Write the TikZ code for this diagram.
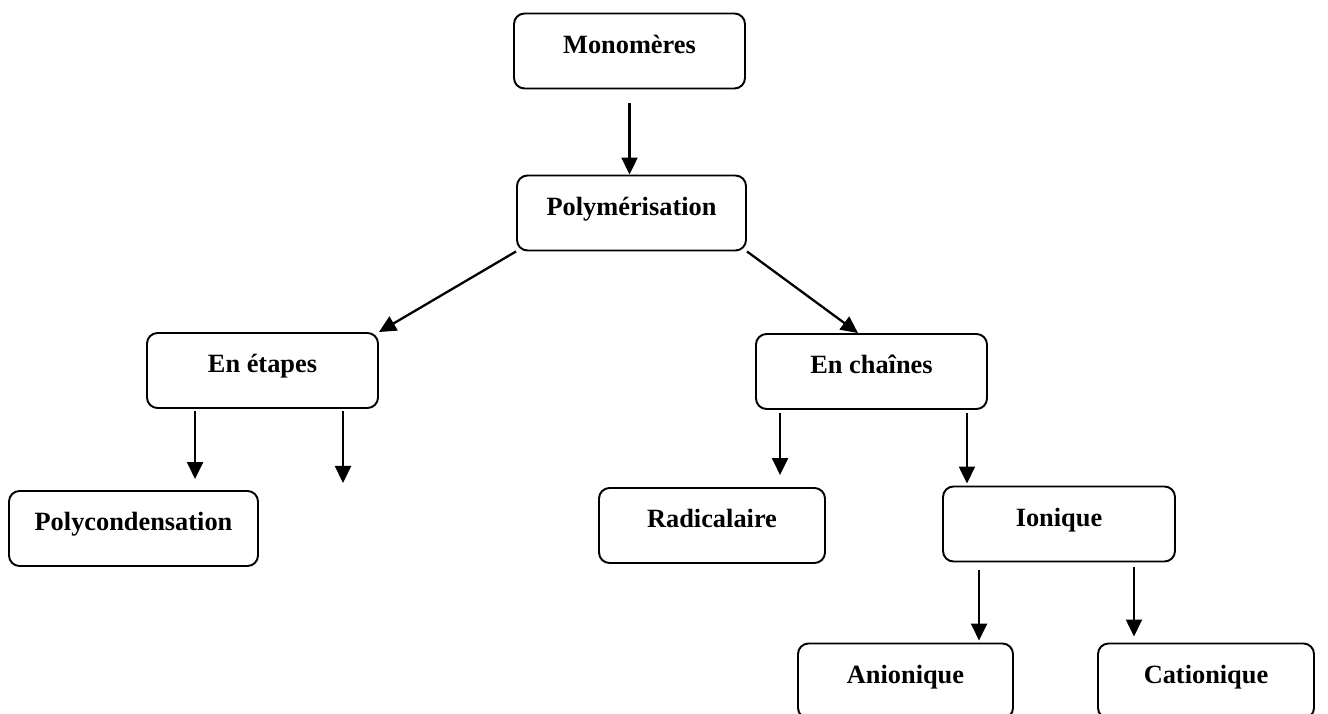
\documentclass[tikz,border=0pt]{standalone}
\usepackage{fontspec}
\setmainfont{Liberation Serif}
\usetikzlibrary{arrows.meta, positioning, calc}

\begin{document}
\begin{tikzpicture}[
  >={Triangle[length=0.34cm, width=0.32cm]},
  procbox/.style={draw, rounded corners=6pt, line width=1.1pt, align=center,
    inner xsep=0pt, inner ysep=0pt, text height=0.8cm, text depth=0.7cm,
    font=\fontsize{15}{18}\selectfont\bfseries},
  arr/.style={line width=1.3pt, ->},
]

% Frame
\useasboundingbox (0,0) rectangle (26.56,14.26);
\clip (0,0) rectangle (26.56,14.26);

% Top level
\node[procbox, minimum width=4.62cm] (mono) at (12.59,13.24) {Monomères};
\node[procbox, minimum width=4.58cm] (poly) at (12.63,10.0) {Polymérisation};

% Second level
\node[procbox, minimum width=4.62cm] (etapes) at (5.25,6.85) {En étapes};
\node[procbox, minimum width=4.62cm] (chaines) at (17.43,6.83) {En chaînes};

% Third level
\node[procbox, minimum width=4.98cm] (polycond) at (2.67,3.69) {Polycondensation};
\node[procbox, minimum width=4.52cm] (radical) at (14.24,3.75) {Radicalaire};
\node[procbox, minimum width=4.64cm] (ionique) at (21.18,3.78) {Ionique};

% Bottom level (cut by the frame)
\node[procbox, minimum width=4.30cm] (anion) at (18.11,0.64) {Anionique};
\node[procbox, minimum width=4.32cm] (cation) at (24.12,0.64) {Cationique};

% Free end under "En étapes"
\coordinate (etapesend) at (6.86,4.6);

% Arrows
\draw[arr] ($(mono.south)+(0,-0.28)$) -- (mono.south |- poly.north);
\draw[arr] (poly.south west) -- (etapes.north east);
\draw[arr] (poly.south east) -- ($(chaines.north)+(-0.27,0)$);

\draw[arr] ($(etapes.south west)+(0.98,-0.04)$) coordinate (a1)
  -- ($(a1 |- polycond.north)+(0,0.22)$);
\draw[arr] ($(etapesend |- etapes.south)+(0,-0.04)$) -- (etapesend);

\draw[arr] ($(chaines.south west)+(0.5,-0.06)$) coordinate (a2)
  -- ($(a2 |- radical.north)+(0,0.24)$);
\draw[arr] ($(chaines.south east)+(-0.42,-0.06)$) coordinate (a3)
  -- ($(a3 |- ionique.north)+(0,0.04)$);

\draw[arr] ($(ionique.south west)+(0.74,-0.16)$) coordinate (a4)
  -- ($(a4 |- anion.north)+(0,0.04)$);
\draw[arr] ($(ionique.south east)+(-0.84,-0.1)$) coordinate (a5)
  -- ($(a5 |- cation.north)+(0,0.12)$);

\end{tikzpicture}
\end{document}
